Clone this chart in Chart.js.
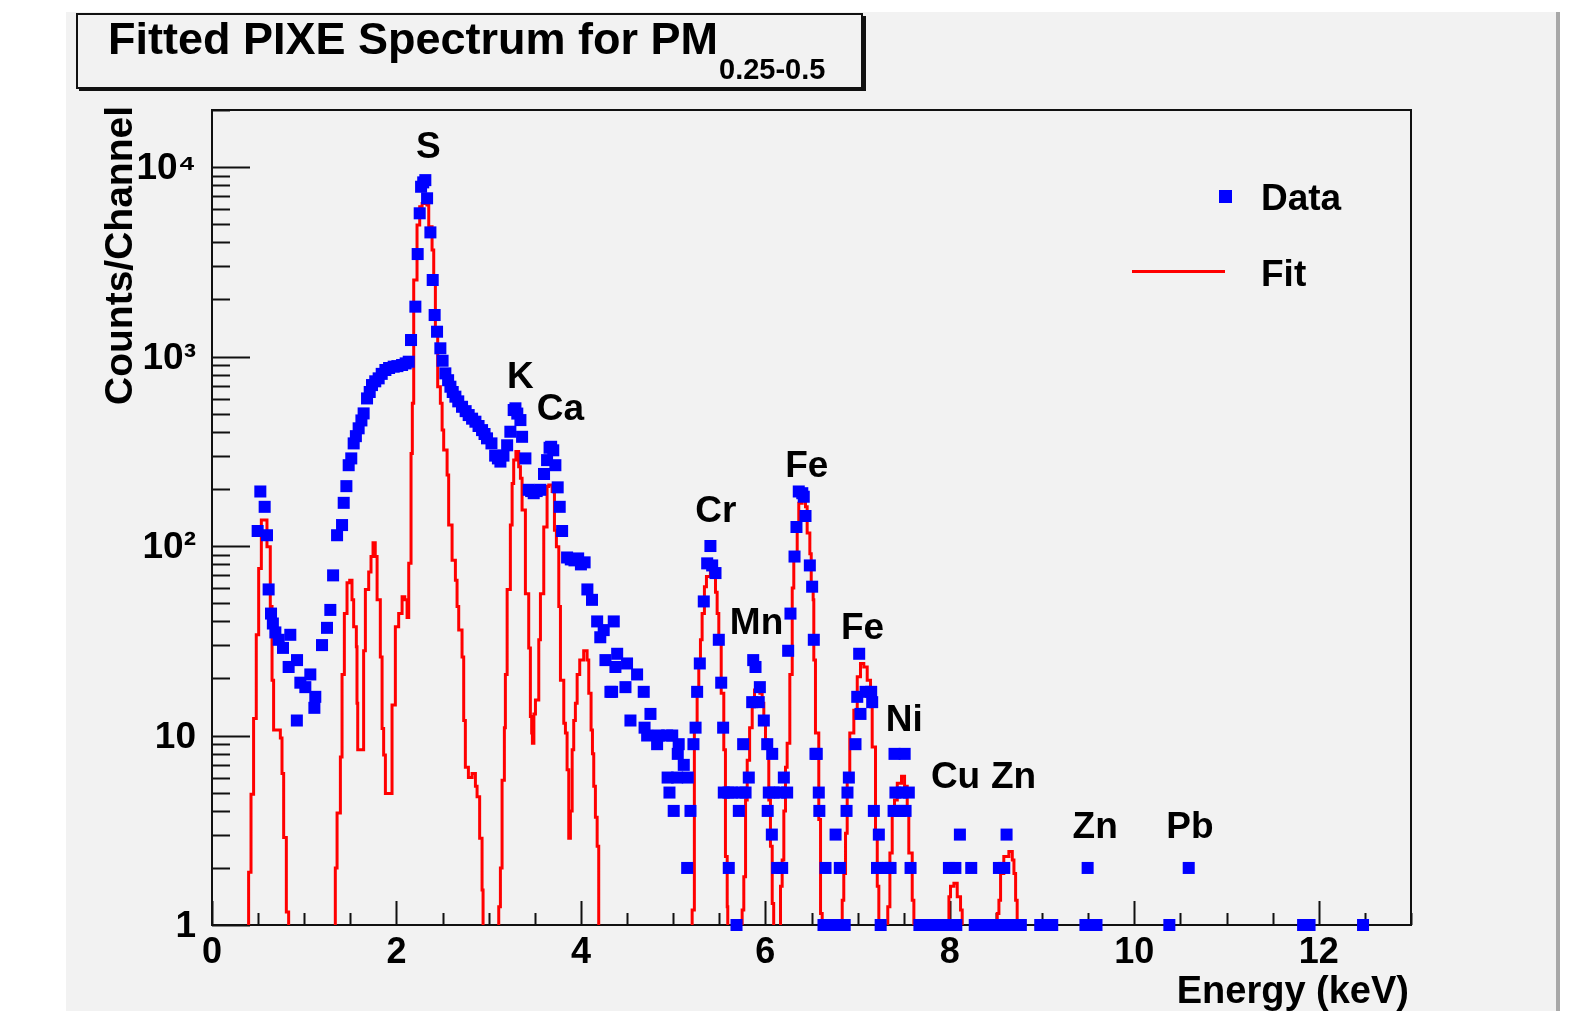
<!DOCTYPE html>
<html>
<head>
<meta charset="utf-8">
<script src="https://cdn.jsdelivr.net/npm/chart.js@4.4.1/dist/chart.umd.min.js"></script>
<style>
  html, body { margin: 0; padding: 0; background: #fff; }
  #wrap { width: 1581px; height: 1011px; }
</style>
</head>
<body>
<div id="wrap"><canvas id="spectrum" width="1581" height="1011"></canvas></div>
<script>
// measured spectrum: [energy keV, counts/channel]
const dataPoints = [
  [0.495,120],[0.524,194],[0.571,161],[0.596,114],[0.614,59],[0.640,44],[0.660,39],[0.687,35],[0.723,32],[0.770,29],
  [0.831,23],[0.849,34],[0.920,12],[0.922,25],[0.958,19],[1.012,18],[1.066,21],[1.110,14],[1.120,16],[1.193,30],
  [1.247,37],[1.283,46],[1.313,70],[1.356,114],[1.410,129],[1.428,169],[1.457,207],[1.482,267],[1.510,290],[1.536,348],
  [1.560,380],[1.590,418],[1.620,460],[1.644,501],[1.681,601],[1.710,650],[1.735,707],[1.770,740],[1.807,767],[1.840,810],
  [1.880,849],[1.920,870],[1.970,884],[2.010,890],[2.061,902],[2.100,920],[2.133,939],[2.158,1222],[2.205,1833],[2.230,3474],
  [2.252,5700],[2.267,7870],[2.290,8300],[2.313,8530],[2.332,6840],[2.368,4520],[2.393,2535],[2.414,1656],[2.440,1352],[2.476,1105],
  [2.500,950],[2.530,815],[2.560,750],[2.585,693],[2.610,650],[2.639,614],[2.670,580],[2.711,543],[2.750,515],[2.783,491],
  [2.820,470],[2.856,453],[2.890,430],[2.928,409],[2.955,390],[2.982,370],[3.030,348],[3.070,300],[3.100,290],[3.127,279],
  [3.160,300],[3.200,340],[3.235,401],[3.271,522],[3.290,533],[3.310,500],[3.344,462],[3.362,377],[3.398,290],[3.434,198],
  [3.460,195],[3.488,190],[3.520,195],[3.560,198],[3.600,240],[3.633,284],[3.660,330],[3.677,334],[3.700,320],[3.723,267],
  [3.748,204],[3.770,161],[3.796,120],[3.850,87],[3.890,85],[3.930,84],[3.970,86],[4.000,80],[4.040,82],[4.070,59],
  [4.120,52],[4.176,40],[4.210,33],[4.247,36],[4.266,25],[4.320,17],[4.338,17],[4.356,40],[4.374,23],[4.393,27],
  [4.483,18],[4.500,24],[4.537,12],[4.609,21],[4.681,17],[4.690,11],[4.718,10],[4.754,13],[4.826,9],[4.844,10],
  [4.935,10],[4.940,6],[4.960,5],[4.990,10],[5.006,4],[5.043,6],[5.050,8],[5.060,9],[5.115,7],[5.152,2],
  [5.158,6],[5.188,4],[5.220,9],[5.243,11],[5.260,17],[5.289,24],[5.332,51],[5.369,81],[5.404,100],[5.423,79],
  [5.459,72],[5.495,32],[5.521,19],[5.542,11],[5.549,5],[5.600,5],[5.603,2],[5.640,5],[5.687,1],[5.712,4],
  [5.740,5],[5.759,9],[5.785,5],[5.820,6],[5.857,15],[5.868,25],[5.893,23],[5.928,15],[5.940,18],[5.983,12],
  [6.020,9],[6.025,4],[6.037,5],[6.070,3],[6.074,8],[6.090,5],[6.128,2],[6.160,5],[6.182,2],[6.200,6],
  [6.236,5],[6.247,28],[6.272,44],[6.316,88],[6.337,126],[6.362,194],[6.400,190],[6.416,182],[6.435,144],[6.482,79],
  [6.507,61],[6.525,32],[6.543,8],[6.557,8],[6.579,5],[6.585,4],[6.630,1],[6.652,2],[6.670,1],[6.720,1],
  [6.761,3],[6.770,1],[6.807,2],[6.820,1],[6.860,1],[6.880,4],[6.890,5],[6.905,6],[6.977,9],[6.996,16],
  [7.017,27],[7.031,13],[7.086,17],[7.147,17],[7.158,15],[7.176,4],[7.210,2],[7.230,3],[7.250,1],[7.290,2],
  [7.330,2],[7.357,2],[7.390,4],[7.400,8],[7.410,5],[7.460,4],[7.480,5],[7.510,8],[7.520,4],[7.555,5],
  [7.574,2],[7.670,1],[7.720,1],[7.770,1],[7.820,1],[7.870,1],[7.920,1],[7.970,1],[7.990,2],[8.020,1],
  [8.060,2],[8.070,1],[8.109,3],[8.232,2],[8.270,1],[8.320,1],[8.370,1],[8.420,1],[8.470,1],[8.520,1],
  [8.532,2],[8.570,1],[8.590,2],[8.615,3],[8.620,1],[8.670,1],[8.720,1],[8.770,1],[8.980,1],[9.040,1],
  [9.110,1],[9.470,1],[9.494,2],[9.530,1],[9.590,1],[10.380,1],[10.590,2],[11.830,1],[11.900,1],[12.480,1]
];

// fitted spectrum, histogram steps: [bin start keV, counts]; 0.1 = below the axis
const fitPoints = [
  [0.396,0.1],[0.397,1.9],[0.423,4.9],[0.451,12.3],[0.480,34],[0.506,76],[0.535,137],[0.596,99],[0.632,48],[0.651,19.6],
  [0.668,10.7],[0.741,9.7],[0.759,6.3],[0.777,2.9],[0.806,1.17],[0.831,0.1],
  [1.337,2.0],[1.356,3.9],[1.392,7.7],[1.410,21],[1.435,44],[1.464,64],[1.493,66],[1.518,52],[1.536,37.5],[1.565,29.4],
  [1.572,14.8],[1.580,8.4],[1.644,28],[1.663,59],[1.699,73],[1.724,88],[1.746,104],[1.770,88],[1.790,52],[1.825,26],
  [1.844,10.9],[1.861,7.9],[1.880,4.95],[1.952,14.5],[1.988,37.5],[2.024,44],[2.061,54],[2.090,52],[2.115,42],[2.133,81],
  [2.158,308],[2.172,566],[2.187,2535],[2.223,4940],[2.252,6180],[2.278,6430],[2.330,6300],[2.350,4840],[2.386,3650],[2.404,2535],
  [2.422,1380],[2.447,693],[2.476,566],[2.495,409],[2.512,321],[2.549,237],[2.566,129],[2.603,84],[2.639,66],[2.657,48],
  [2.675,36],[2.711,26],[2.729,12],[2.747,6.8],[2.780,6.0],[2.820,6.3],[2.856,5.4],[2.874,4.75],[2.902,2.87],[2.928,1.53],
  [2.939,0.1],
  [3.109,1.25],[3.127,2.0],[3.145,5.8],[3.170,11],[3.181,21],[3.200,59],[3.235,129],[3.254,214],[3.271,284],[3.295,315],
  [3.325,262],[3.344,228],[3.362,155],[3.398,56],[3.434,29],[3.452,12.6],[3.466,10.3],[3.474,9.1],[3.490,13],[3.507,15.4],
  [3.543,32],[3.561,56],[3.597,126],[3.633,206],[3.651,210],[3.688,194],[3.713,121],[3.734,99],[3.760,48],[3.778,19.6],
  [3.814,11.6],[3.832,10.3],[3.850,6.6],[3.868,2.87],[3.886,4],[3.905,8.4],[3.922,12],[3.940,14.8],[3.959,21],[3.987,25],
  [4.030,28],[4.067,25],[4.085,16.7],[4.110,10.7],[4.125,8],[4.139,5.4],[4.157,3.7],[4.176,2.6],[4.193,0.1],
  [5.206,1.2],[5.230,11],[5.260,17.4],[5.278,24],[5.296,32],[5.314,44],[5.339,61],[5.361,69],[5.404,78],[5.440,69],
  [5.459,57],[5.477,44],[5.495,32],[5.521,16.7],[5.549,8.4],[5.567,2.3],[5.586,1.25],[5.592,0.1],
  [5.748,1.2],[5.766,1.8],[5.785,4.57],[5.803,7.4],[5.829,11],[5.857,14.2],[5.882,17.4],[5.911,18],[5.940,16.7],[5.965,14.8],
  [5.983,12],[6.001,9.5],[6.020,8.7],[6.037,4.57],[6.055,2.6],[6.074,1.3],[6.090,0.1],
  [6.164,1.6],[6.182,2.2],[6.200,4],[6.218,6.8],[6.236,9.1],[6.265,21],[6.291,60],[6.308,91],[6.345,126],[6.362,168],
  [6.399,179],[6.435,161],[6.453,117],[6.482,91],[6.497,61],[6.518,52],[6.525,25],[6.543,10.3],[6.579,3.6],[6.598,1.15],
  [6.616,0.1],
  [6.833,1.35],[6.850,1.87],[6.869,3.05],[6.887,6.1],[6.915,10.3],[6.959,13.6],[6.996,20.4],[7.031,24],[7.067,23],[7.104,19.6],
  [7.140,14.2],[7.158,8.7],[7.194,3.05],[7.213,1.6],[7.230,0.1],
  [7.327,1.25],[7.350,2.4],[7.375,3.9],[7.400,4.57],[7.430,5.6],[7.476,6.1],[7.509,5.4],[7.538,4],[7.555,2.4],[7.592,1.35],
  [7.610,0.1],
  [7.990,1.41],[8.007,1.6],[8.044,1.66],[8.080,1.41],[8.116,1.2],[8.134,0.1],
  [8.514,1.15],[8.532,1.35],[8.550,1.87],[8.585,2.3],[8.640,2.44],[8.677,2.2],[8.695,1.87],[8.713,1.35],[8.730,0.1]
];

// element labels above the peaks
const peakNames = ['S', 'K', 'Ca', 'Cr', 'Fe', 'Mn', 'Fe', 'Ni', 'Cu', 'Zn', 'Zn', 'Pb'];
const peakEnergy = [2.346, 3.344, 3.778, 5.462, 6.449, 5.904, 7.053, 7.505, 8.062, 8.691, 9.576, 10.603];
const peakHeight = [11120, 679, 462, 134, 232, 34.2, 32.4, 10.5, 5.27, 5.27, 2.89, 2.89];

const yTickLabels = { 1: '1', 10: '10', 100: '10²', 1000: '10³', 10000: '10⁴' };

const FONT = "'Liberation Sans', Arial, Helvetica, sans-serif";

const rootLook = {
  id: 'rootLook',
  beforeDraw(chart) {
    const c = chart.ctx;
    c.save();
    c.fillStyle = '#ffffff';
    c.fillRect(0, 0, chart.width, chart.height);
    c.fillStyle = '#f2f2f2';
    c.fillRect(66, 12, 1492, chart.height - 12);
    c.fillStyle = '#a8a8a8';
    c.fillRect(1556, 12, 4, chart.height - 12);

    // title box with shadow
    c.fillStyle = '#111';
    c.fillRect(862, 16, 4, 75);
    c.fillRect(79, 87, 787, 4);
    c.lineWidth = 2;
    c.strokeStyle = '#111';
    c.strokeRect(77, 14, 785, 74);
    c.fillStyle = '#000';
    c.textAlign = 'left';
    c.textBaseline = 'alphabetic';
    c.font = `bold 45px ${FONT}`;
    c.fillText('Fitted PIXE Spectrum for PM', 108, 54);
    c.font = `bold 29px ${FONT}`;
    c.fillText('0.25-0.5', 719, 79);
    c.restore();
  },

  beforeDatasetsDraw(chart) {
    const c = chart.ctx;
    const a = chart.chartArea;
    const xs = chart.scales.x;
    const ys = chart.scales.y;
    c.save();
    c.strokeStyle = '#111';
    c.lineWidth = 2;
    c.strokeRect(a.left, a.top, a.right - a.left, a.bottom - a.top);

    c.beginPath();
    for (let v = 0; v <= 13; v += 0.5) {
      const px = Math.round(xs.getPixelForValue(v)) + 0.5;
      const len = v % 2 === 0 ? 24 : 12;
      c.moveTo(px, a.bottom);
      c.lineTo(px, a.bottom - len);
    }
    for (let d = 1; d <= 10000; d *= 10) {
      for (let m = 1; m <= 9; m++) {
        const v = m * d;
        if (v > 20000) break;
        const py = Math.round(ys.getPixelForValue(v)) + 0.5;
        const len = m === 1 ? 38 : 18;
        c.moveTo(a.left, py);
        c.lineTo(a.left + len, py);
      }
    }
    c.stroke();
    c.restore();
  },

  afterDatasetsDraw(chart) {
    const c = chart.ctx;
    const xs = chart.scales.x;
    const ys = chart.scales.y;
    c.save();
    c.fillStyle = '#000';
    c.textBaseline = 'alphabetic';

    c.font = `bold 37px ${FONT}`;
    c.textAlign = 'center';
    peakNames.forEach((n, i) => {
      c.fillText(n, xs.getPixelForValue(peakEnergy[i]), ys.getPixelForValue(peakHeight[i]));
    });

    // legend
    c.fillStyle = '#0000ff';
    c.fillRect(1219, 190, 13, 13);
    c.strokeStyle = '#ff0000';
    c.lineWidth = 3;
    c.beginPath();
    c.moveTo(1132, 271.5);
    c.lineTo(1225, 271.5);
    c.stroke();
    c.fillStyle = '#000';
    c.textAlign = 'left';
    c.font = `bold 37px ${FONT}`;
    c.fillText('Data', 1261, 210);
    c.fillText('Fit', 1261, 286);

    // axis titles
    c.font = `bold 38px ${FONT}`;
    c.textAlign = 'right';
    c.fillText('Energy (keV)', 1409, 1003);
    c.font = `bold 39px ${FONT}`;
    c.translate(132, 106);
    c.rotate(-Math.PI / 2);
    c.fillText('Counts/Channel', 0, 0);
    c.restore();
  }
};

new Chart(document.getElementById('spectrum').getContext('2d'), {
  type: 'scatter',
  data: {
    datasets: [
      {
        label: 'Data',
        data: dataPoints.map(([x, y]) => ({ x, y })),
        pointStyle: 'rect',
        pointRadius: 8.5,
        pointHoverRadius: 8.5,
        backgroundColor: '#0000ff',
        borderWidth: 0,
        clip: false,
        order: 0
      },
      {
        label: 'Fit',
        data: fitPoints.map(([x, y]) => ({ x, y })),
        showLine: true,
        stepped: 'before',
        borderColor: '#ff0000',
        borderWidth: 3,
        pointRadius: 0,
        fill: false,
        clip: 0,
        order: 1
      }
    ]
  },
  options: {
    responsive: false,
    animation: false,
    events: [],
    layout: { padding: { left: 0, top: 110, right: 170, bottom: 0 } },
    plugins: { legend: { display: false }, tooltip: { enabled: false } },
    scales: {
      x: {
        type: 'linear',
        min: 0,
        max: 13,
        afterBuildTicks: s => {
          const t = [];
          for (let v = 0; v <= 13; v += 0.5) t.push({ value: v });
          s.ticks = t;
        },
        afterFit: s => { s.height = 86; },
        grid: { display: false, drawTicks: false, tickLength: 0 },
        border: { display: false },
        ticks: {
          autoSkip: false,
          maxRotation: 0,
          padding: 6,
          color: '#000',
          font: { family: FONT, size: 36, weight: 'bold' },
          callback: v => (v % 2 === 0 ? String(v) : '')
        }
      },
      y: {
        type: 'logarithmic',
        min: 1,
        max: 20000,
        afterBuildTicks: s => {
          const t = [];
          for (let d = 1; d <= 10000; d *= 10) {
            for (let m = 1; m <= 9; m++) if (m * d <= 20000) t.push({ value: m * d });
          }
          s.ticks = t;
        },
        afterFit: s => { s.width = 212; },
        grid: { display: false, drawTicks: false, tickLength: 0 },
        border: { display: false },
        ticks: {
          autoSkip: false,
          padding: 16,
          labelOffset: 2,
          color: '#000',
          font: { family: FONT, size: 37, weight: 'bold' },
          callback: v => yTickLabels[v] || ''
        }
      }
    }
  },
  plugins: [rootLook]
});
</script>
</body>
</html>
